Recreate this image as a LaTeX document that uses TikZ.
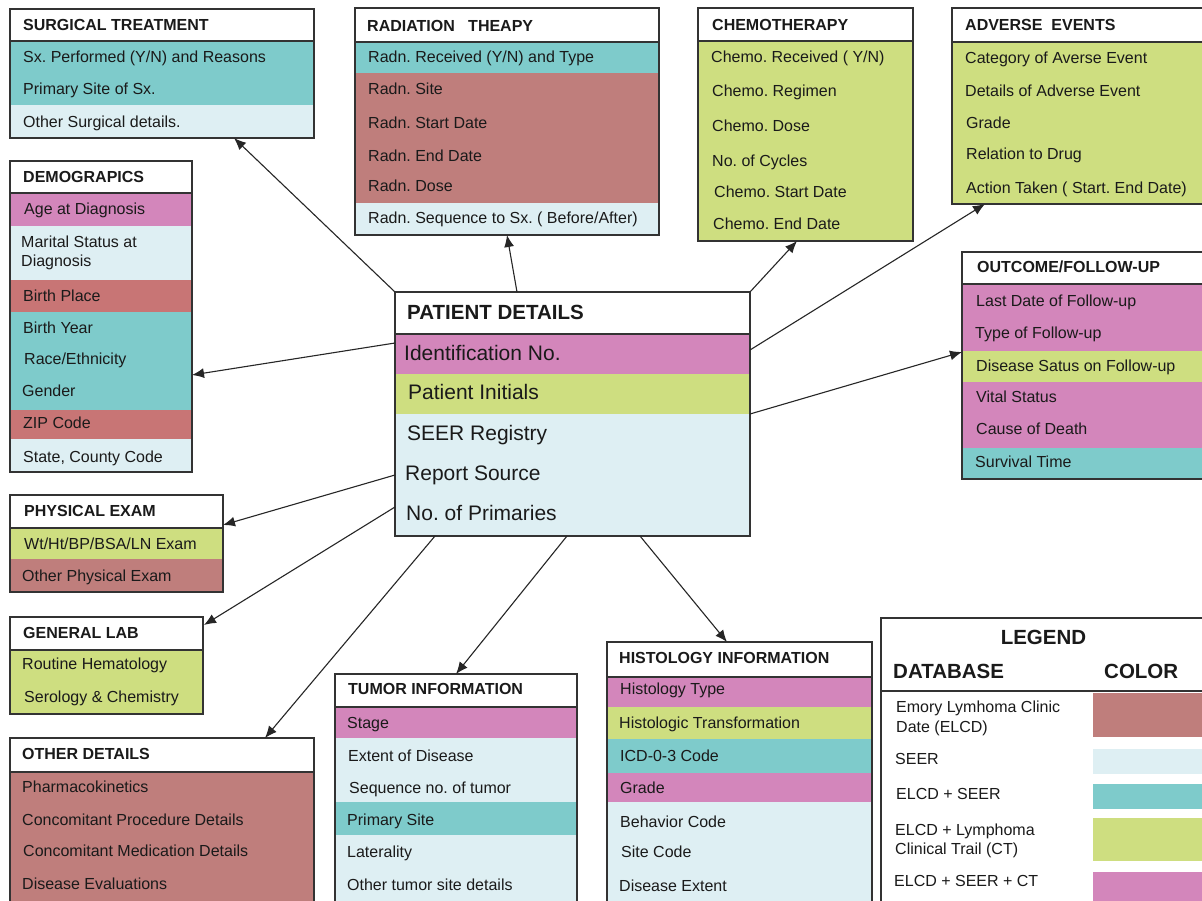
\documentclass[tikz,border=0pt]{standalone}
\usepackage{fontspec}
\setmainfont{Liberation Sans}
\usetikzlibrary{arrows.meta}
\frenchspacing
\definecolor{pinkc}{HTML}{D386BB}
\definecolor{greenc}{HTML}{CEDE80}
\definecolor{tealc}{HTML}{7ECBCB}
\definecolor{lightc}{HTML}{DEEFF3}
\definecolor{redc}{HTML}{BF7E7C}
\definecolor{redd}{HTML}{C87575}
\definecolor{framec}{HTML}{333333}
\definecolor{txtc}{HTML}{1A1A1A}
\begin{document}
\frenchspacing
\begin{tikzpicture}[x=1pt,y=-1pt,
  frame/.style={draw=framec, line width=1.3pt, anchor=north west, inner sep=0pt, outer sep=0pt},
  hline/.style={draw=framec, line width=1.3pt},
  tx/.style={anchor=west, inner sep=0pt, text height=11.5pt, text depth=0pt, text=txtc, font=\fontsize{16}{19}\selectfont},
  ttl/.style={tx, font=\fontsize{16}{19}\selectfont\bfseries},
  big/.style={anchor=west, inner sep=0pt, text height=15pt, text depth=0pt, text=txtc, font=\fontsize{21}{25}\selectfont},
  bigt/.style={big, text height=14.7pt, font=\fontsize{20.5}{25}\selectfont\bfseries},
  conn/.style={draw=black!85, line width=1.1pt, -{Latex[length=12pt,width=10pt]}}
]
\useasboundingbox (0,0) rectangle (1202,901);
\clip (0,0) rectangle (1202,901);
\fill[white] (0,0) rectangle (1202,901);

% ---------- fills ----------
% surgical
\fill[tealc] (10,41) rectangle (314,105);
\fill[lightc] (10,105) rectangle (314,138);
% radiation
\fill[tealc] (355,42) rectangle (659,73);
\fill[redc] (355,73) rectangle (659,203);
\fill[lightc] (355,203) rectangle (659,235);
% chemo
\fill[greenc] (698,41) rectangle (913,241);
% adverse
\fill[greenc] (952,42) rectangle (1212,204);
% outcome
\fill[pinkc] (962,284) rectangle (1212,351);
\fill[greenc] (962,351) rectangle (1212,382);
\fill[pinkc] (962,382) rectangle (1212,448);
\fill[tealc] (962,448) rectangle (1212,479);
% demographics
\fill[pinkc] (10,193) rectangle (192,226);
\fill[lightc] (10,226) rectangle (192,280);
\fill[redd] (10,280) rectangle (192,312);
\fill[tealc] (10,312) rectangle (192,410);
\fill[redd] (10,410) rectangle (192,439);
\fill[lightc] (10,439) rectangle (192,472);
% physical
\fill[greenc] (10,528) rectangle (223,559);
\fill[redc] (10,559) rectangle (223,592);
% general lab
\fill[greenc] (10,650) rectangle (203,714);
% other details
\fill[redc] (10,772) rectangle (314,918);
% patient details
\fill[pinkc] (395,334) rectangle (750,374);
\fill[greenc] (395,374) rectangle (750,414);
\fill[lightc] (395,414) rectangle (750,536);
% tumor
\fill[pinkc] (335,707) rectangle (577,738);
\fill[lightc] (335,738) rectangle (577,802);
\fill[tealc] (335,802) rectangle (577,835);
\fill[lightc] (335,835) rectangle (577,918);
% histology
\fill[pinkc] (607,677) rectangle (872,707);
\fill[greenc] (607,707) rectangle (872,739);
\fill[tealc] (607,739) rectangle (872,773);
\fill[pinkc] (607,773) rectangle (872,802);
\fill[lightc] (607,802) rectangle (872,918);
% legend swatches
\fill[redc] (1093,693) rectangle (1212,737);
\fill[lightc] (1093,749) rectangle (1212,774);
\fill[tealc] (1093,784) rectangle (1212,809);
\fill[greenc] (1093,818) rectangle (1212,861);
\fill[pinkc] (1093,872) rectangle (1212,918);

% ---------- header lines ----------
\draw[hline] (10,41) -- (314,41);
\draw[hline] (355,42) -- (659,42);
\draw[hline] (698,41) -- (913,41);
\draw[hline] (952,42) -- (1212,42);
\draw[hline] (962,284) -- (1212,284);
\draw[hline] (10,193) -- (192,193);
\draw[hline] (10,528) -- (223,528);
\draw[hline] (10,650) -- (203,650);
\draw[hline] (10,772) -- (314,772);
\draw[hline] (395,334) -- (750,334);
\draw[hline] (335,707) -- (577,707);
\draw[hline] (607,677) -- (872,677);
\draw[hline] (881,691) -- (1212,691);

% ---------- frames ----------
\node[frame, minimum width=304pt, minimum height=129pt] (surg) at (10,9) {};
\node[frame, minimum width=304pt, minimum height=227pt] (rad) at (355,8) {};
\node[frame, minimum width=215pt, minimum height=233pt] (chemo) at (698,8) {};
\node[frame, minimum width=260pt, minimum height=196pt] (adv) at (952,8) {};
\node[frame, minimum width=250pt, minimum height=227pt] (outc) at (962,252) {};
\node[frame, minimum width=182pt, minimum height=311pt] (demo) at (10,161) {};
\node[frame, minimum width=213pt, minimum height=97pt] (phys) at (10,495) {};
\node[frame, minimum width=193pt, minimum height=97pt] (glab) at (10,617) {};
\node[frame, minimum width=304pt, minimum height=180pt] (other) at (10,738) {};
\node[frame, minimum width=355pt, minimum height=244pt] (pd) at (395,292) {};
\node[frame, minimum width=242pt, minimum height=240pt] (tumor) at (335,674) {};
\node[frame, minimum width=265pt, minimum height=270pt] (hist) at (607,642) {};
\node[frame, minimum width=330pt, minimum height=300pt] (legend) at (881,618) {};

% ---------- texts ----------
% surgical
\node[ttl] (s0) at (23,25) {SURGICAL TREATMENT};
\node[tx] (s1) at (23,57) {Sx. Performed (Y/N) and Reasons};
\node[tx] (s2) at (23,89) {Primary Site of Sx.};
\node[tx] (s3) at (23,122) {Other Surgical details.};
% radiation
\node[ttl] (r0) at (367,26) {RADIATION\ \ \ THEAPY};
\node[tx] (r1) at (368,57) {Radn. Received (Y/N) and Type};
\node[tx] (r2) at (368,89) {Radn. Site};
\node[tx] (r3) at (368,123) {Radn. Start Date};
\node[tx] (r4) at (368,156) {Radn. End Date};
\node[tx] (r5) at (368,186) {Radn. Dose};
\node[tx] (r6) at (368,218) {Radn. Sequence to Sx. ( Before/After)};
% chemo
\node[ttl] (c0) at (712,25) {CHEMOTHERAPY};
\node[tx] (c1) at (711,57) {Chemo. Received ( Y/N)};
\node[tx] (c2) at (712,91) {Chemo. Regimen};
\node[tx] (c3) at (712,126) {Chemo. Dose};
\node[tx] (c4) at (712,161) {No. of Cycles};
\node[tx] (c5) at (714,192) {Chemo. Start Date};
\node[tx] (c6) at (713,224) {Chemo. End Date};
% adverse
\node[ttl] (a0) at (965,25) {ADVERSE\ \ EVENTS};
\node[tx] (a1) at (965,58) {Category of Averse Event};
\node[tx] (a2) at (965,91) {Details of Adverse Event};
\node[tx] (a3) at (966,123) {Grade};
\node[tx] (a4) at (966,154) {Relation to Drug};
\node[tx] (a5) at (966,188) {Action Taken ( Start. End Date)};
% outcome
\node[ttl] (o0) at (977,267) {OUTCOME/FOLLOW-UP};
\node[tx] (o1) at (976,301) {Last Date of Follow-up};
\node[tx] (o2) at (975,333) {Type of Follow-up};
\node[tx] (o3) at (976,366) {Disease Satus on Follow-up};
\node[tx] (o4) at (976,397) {Vital Status};
\node[tx] (o5) at (976,429) {Cause of Death};
\node[tx] (o6) at (975,462) {Survival Time};
% demographics
\node[ttl] (d0) at (23,177) {DEMOGRAPICS};
\node[tx] (d1) at (24,209) {Age at Diagnosis};
\node[tx] (d2) at (21,242) {Marital Status at};
\node[tx] (d2b) at (21,261) {Diagnosis};
\node[tx] (d3) at (23,296) {Birth Place};
\node[tx] (d4) at (23,328) {Birth Year};
\node[tx] (d5) at (24,359) {Race/Ethnicity};
\node[tx] (d6) at (22,391) {Gender};
\node[tx] (d7) at (23,423) {ZIP Code};
\node[tx] (d8) at (23,457) {State, County Code};
% physical
\node[ttl] (p0) at (24,511) {PHYSICAL EXAM};
\node[tx] (p1) at (24,544) {Wt/Ht/BP/BSA/LN Exam};
\node[tx] (p2) at (22,576) {Other Physical Exam};
% general lab
\node[ttl] (g0) at (23,633) {GENERAL LAB};
\node[tx] (g1) at (22,664) {Routine Hematology};
\node[tx] (g2) at (24,697) {Serology \& Chemistry};
% other details
\node[ttl] (od0) at (22,754) {OTHER DETAILS};
\node[tx] (od1) at (22,787) {Pharmacokinetics};
\node[tx] (od2) at (22,820) {Concomitant Procedure Details};
\node[tx] (od3) at (23,851) {Concomitant Medication Details};
\node[tx] (od4) at (22,884) {Disease Evaluations};
% patient details
\node[bigt] (pd0) at (407,312) {PATIENT DETAILS};
\node[big] (pd1) at (404,353) {Identification No.};
\node[big] (pd2) at (408,392) {Patient Initials};
\node[big] (pd3) at (407,433) {SEER Registry};
\node[big] (pd4) at (405,473) {Report Source};
\node[big] (pd5) at (406,513) {No. of Primaries};
% tumor
\node[ttl] (t0) at (348,689) {TUMOR INFORMATION};
\node[tx] (t1) at (347,723) {Stage};
\node[tx] (t2) at (348,756) {Extent of Disease};
\node[tx] (t3) at (349,788) {Sequence no. of tumor};
\node[tx] (t4) at (347,820) {Primary Site};
\node[tx] (t5) at (347,852) {Laterality};
\node[tx] (t6) at (347,885) {Other tumor site details};
% histology
\node[ttl] (h0) at (619,658) {HISTOLOGY INFORMATION};
\node[tx] (h1) at (620,689) {Histology Type};
\node[tx] (h2) at (619,723) {Histologic Transformation};
\node[tx] (h3) at (620,756) {ICD-0-3 Code};
\node[tx] (h4) at (620,788) {Grade};
\node[tx] (h5) at (620,822) {Behavior Code};
\node[tx] (h6) at (621,852) {Site Code};
\node[tx] (h7) at (619,886) {Disease Extent};
% legend
\node[bigt, anchor=center] (l0) at (1043.5,637) {LEGEND};
\node[bigt] (l1) at (893,671) {DATABASE};
\node[bigt] (l2) at (1104,671) {COLOR};
\node[tx] (l3) at (896,707) {Emory Lymhoma Clinic};
\node[tx] (l3b) at (896,727) {Date (ELCD)};
\node[tx] (l4) at (895,759) {SEER};
\node[tx] (l5) at (896,794) {ELCD + SEER};
\node[tx] (l6) at (895,830) {ELCD + Lymphoma};
\node[tx] (l6b) at (895,849) {Clinical Trail (CT)};
\node[tx] (l7) at (894,881) {ELCD + SEER + CT};

% ---------- connector end points ----------
\coordinate (surgIn) at (234,138);
\coordinate (radOut) at (517,292);
\coordinate (radIn) at (507,235);
\coordinate (chemoIn) at (797,241);
\coordinate (advOut) at (750,350);
\coordinate (advIn) at (985,204);
\coordinate (outcOut) at (750,414);
\coordinate (outcIn) at (962,352);
\coordinate (demoOut) at (395,343);
\coordinate (demoIn) at (192,375);
\coordinate (physOut) at (395,475);
\coordinate (physIn) at (223,525);
\coordinate (glabOut) at (395,507);
\coordinate (glabIn) at (204,625);
\coordinate (otherOut) at (435,536);
\coordinate (otherIn) at (265,738);
\coordinate (tumorOut) at (567,536);
\coordinate (tumorIn) at (456,674);
\coordinate (histOut) at (640,536);
\coordinate (histIn) at (727,642);

% ---------- connectors ----------
\draw[conn] (pd.north west) -- (surgIn);
\draw[conn] (radOut) -- (radIn);
\draw[conn] (pd.north east) -- (chemoIn);
\draw[conn] (advOut) -- (advIn);
\draw[conn] (outcOut) -- (outcIn);
\draw[conn] (demoOut) -- (demoIn);
\draw[conn] (physOut) -- (physIn);
\draw[conn] (glabOut) -- (glabIn);
\draw[conn] (otherOut) -- (otherIn);
\draw[conn] (tumorOut) -- (tumorIn);
\draw[conn] (histOut) -- (histIn);
\end{tikzpicture}
\end{document}
